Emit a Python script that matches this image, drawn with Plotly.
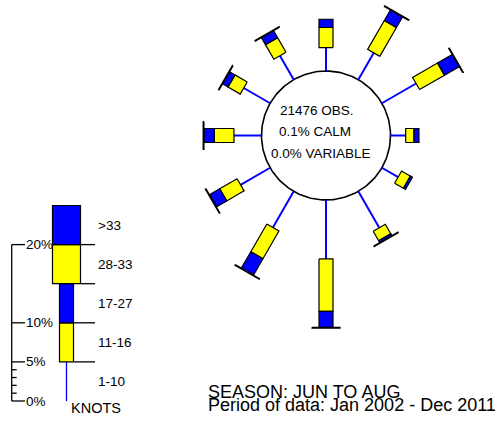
import numpy as np
import plotly.graph_objects as go

# ---------------- data ----------------
directions = [360, 30, 60, 90, 120, 150, 180, 210, 240, 270, 300, 330]   # deg
pct_1_10  = [3.00, 3.95, 5.05, 1.94, 2.40, 5.37, 7.54, 5.33, 4.36, 3.52, 3.90, 3.53]
pct_11_16 = [2.56, 4.27, 3.68, 1.06, 1.30, 1.40, 6.69, 4.10, 2.57, 2.52, 1.80, 2.15]
pct_17_27 = [1.06, 1.55, 2.17, 0.64, 0.30, 0.28, 2.05, 2.42, 1.52, 1.32, 0.80, 1.04]
pct_28_33 = [0.00, 0.10, 0.10, 0.00, 0.00, 0.10, 0.10, 0.10, 0.10, 0.10, 0.10, 0.10]
pct_gt_33 = [0.00, 0.00, 0.00, 0.00, 0.00, 0.00, 0.00, 0.00, 0.00, 0.00, 0.00, 0.00]

speed_labels = ["1-10", "11-16", "17-27", "28-33", ">33"]
legend_pct = [5, 5, 5, 5, 5]
scale_major = [0, 5, 10, 20]
scale_minor = [1, 2, 3, 4]
n_obs = 21476
calm_pct = 0.1
variable_pct = 0.0
season_text = "SEASON: JUN TO AUG"
period_text = "Period of data: Jan 2002 - Dec 2011"

# ---------------- geometry / style ----------------
W, H = 502, 423
PX = 7.82                # pixels per percent
CX, CY, R0 = 326.0, 135.5, 64.5
LX, LY = 66.5, 401.0     # legend base
AX = 11.7                # legend scale axis x
NARROW, WIDE = 14, 28
YEL, BLU = "#FFFF00", "#0000FF"
FONT = "Liberation Sans, Arial, sans-serif"

fig = go.Figure()


def seg_points(cx, cy, theta, r_a, r_b, w):
    t = np.deg2rad(theta)
    ux, uy = np.sin(t), -np.cos(t)
    px, py = np.cos(t), np.sin(t)
    h = w / 2.0
    pts = [(cx + ux * r_a + px * h, cy + uy * r_a + py * h),
           (cx + ux * r_b + px * h, cy + uy * r_b + py * h),
           (cx + ux * r_b - px * h, cy + uy * r_b - py * h),
           (cx + ux * r_a - px * h, cy + uy * r_a - py * h)]
    pts.append(pts[0])
    return [p[0] for p in pts], [p[1] for p in pts]


def add_arm(cx, cy, theta, r0, vals, stem_w):
    r = r0
    t = np.deg2rad(theta)
    r1 = r + vals[0] * PX
    fig.add_trace(go.Scatter(x=[cx + np.sin(t) * r, cx + np.sin(t) * r1],
                             y=[cy - np.cos(t) * r, cy - np.cos(t) * r1],
                             mode="lines", line=dict(color=BLU, width=stem_w),
                             hoverinfo="skip"))
    r = r1
    specs = [(NARROW, YEL), (NARROW, BLU), (WIDE, YEL), (WIDE, BLU)]
    for v, (w, c) in zip(vals[1:], specs):
        if v <= 0:
            continue
        rb = r + v * PX
        xs, ys = seg_points(cx, cy, theta, r, rb, w)
        fig.add_trace(go.Scatter(x=xs, y=ys, mode="lines", fill="toself",
                                 fillcolor=c, line=dict(color="black", width=1.2),
                                 hoverinfo="skip"))
        r = rb


# circle
ang = np.linspace(0, 2 * np.pi, 241)
fig.add_trace(go.Scatter(x=CX + R0 * np.cos(ang), y=CY + R0 * np.sin(ang),
                         mode="lines", line=dict(color="black", width=1.6),
                         hoverinfo="skip"))

for i, d in enumerate(directions):
    vals = [pct_1_10[i], pct_11_16[i], pct_17_27[i], pct_28_33[i], pct_gt_33[i]]
    add_arm(CX, CY, d, R0, vals, 2)

# legend arm
add_arm(LX, LY, 0, 0, legend_pct, 1.3)

# legend scale axis
fig.add_trace(go.Scatter(x=[AX, AX], y=[LY, LY - max(scale_major) * PX],
                         mode="lines", line=dict(color="black", width=1.3),
                         hoverinfo="skip"))
for v in scale_major:
    y = LY - v * PX
    fig.add_trace(go.Scatter(x=[AX, AX + 13.3], y=[y, y], mode="lines",
                             line=dict(color="black", width=1.3), hoverinfo="skip"))
    fig.add_annotation(x=AX + 12, y=y, text=f"{v}%", showarrow=False,
                       xanchor="left", yanchor="middle",
                       font=dict(family=FONT, size=13.5, color="black"))
for v in scale_minor:
    y = LY - v * PX
    fig.add_trace(go.Scatter(x=[AX, AX + 5], y=[y, y], mode="lines",
                             line=dict(color="black", width=1.3), hoverinfo="skip"))

# legend separators and labels
cum = np.cumsum(legend_pct)
for k, c in enumerate(cum[:-1]):
    y = LY - c * PX
    half = (NARROW if k < 2 else WIDE) / 2.0
    fig.add_trace(go.Scatter(x=[LX + half, 95], y=[y, y], mode="lines",
                             line=dict(color="black", width=1.3), hoverinfo="skip"))
starts = np.concatenate([[0], cum[:-1]])
for lab, s, v in zip(speed_labels, starts, legend_pct):
    fig.add_annotation(x=96, y=LY - (s + v / 2.0) * PX, text=lab, showarrow=False,
                       xanchor="left", yanchor="middle",
                       font=dict(family=FONT, size=13.5, color="black"))
fig.add_annotation(x=69, y=408, text="KNOTS", showarrow=False,
                   xanchor="left", yanchor="middle",
                   font=dict(family=FONT, size=14.5, color="black"))

# circle texts
fig.add_annotation(x=316.7, y=110.7, text=f"{n_obs} OBS.", showarrow=False,
                   font=dict(family=FONT, size=13.5, color="black"))
fig.add_annotation(x=315.3, y=131, text=f"{calm_pct:.1f}% CALM", showarrow=False,
                   font=dict(family=FONT, size=13.5, color="black"))
fig.add_annotation(x=321.3, y=153.3, text=f"{variable_pct:.1f}% VARIABLE", showarrow=False,
                   font=dict(family=FONT, size=13.5, color="black"))

# footer
fig.add_annotation(x=206, y=392, text=season_text, showarrow=False,
                   xanchor="left", yanchor="middle",
                   font=dict(family=FONT, size=18, color="black"))
fig.add_annotation(x=206, y=405, text=period_text, showarrow=False,
                   xanchor="left", yanchor="middle",
                   font=dict(family=FONT, size=18, color="black"))

fig.update_layout(
    width=W, height=H, margin=dict(l=0, r=0, t=0, b=0),
    paper_bgcolor="white", plot_bgcolor="white", showlegend=False,
    xaxis=dict(range=[0, W], visible=False, fixedrange=True),
    yaxis=dict(range=[H, 0], visible=False, fixedrange=True),
)

fig.write_html("out.html", config={"displayModeBar": False},
               post_script="document.body.style.margin='0';document.body.style.overflow='hidden';")
